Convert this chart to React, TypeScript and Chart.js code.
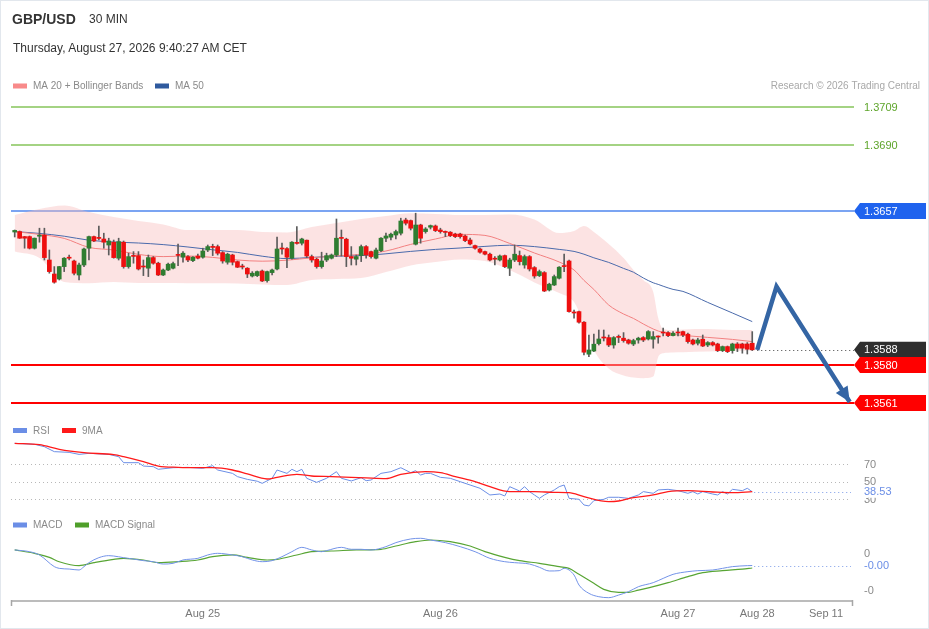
import React, { useEffect, useRef } from "react";
import { Chart, registerables } from "chart.js";

Chart.register(...registerables);

const FONT = '"Liberation Sans", Arial, Helvetica, sans-serif';

// ---------------- candles (GBP/USD 30 min) ----------------
const opens = [
  1.36465,1.36467,1.36442,1.36442,1.36384,1.36444,1.36450,1.36325,1.36255,1.36230,
  1.36292,1.36337,1.36320,1.36250,1.36300,1.36384,1.36442,1.36435,1.36430,1.36400,
  1.36414,1.36334,1.36414,1.36292,1.36345,1.36347,1.36293,1.36284,1.36337,1.36309,
  1.36250,1.36275,1.36284,1.36350,1.36339,1.36342,1.36322,1.36345,1.36339,1.36375,
  1.36390,1.36392,1.36362,1.36314,1.36350,1.36317,1.36293,1.36284,1.36245,1.36247,
  1.36270,1.36222,1.36262,1.36280,1.36383,1.36382,1.36334,1.36409,1.36409,1.36424,
  1.36342,1.36329,1.36292,1.36325,1.36334,1.36350,1.36435,1.36429,1.36342,1.36329,
  1.36347,1.36392,1.36367,1.36334,1.36372,1.36434,1.36439,1.36450,1.36459,1.36525,
  1.36522,1.36404,1.36500,1.36467,1.36489,1.36495,1.36475,1.36465,1.36464,1.36455,
  1.36455,1.36445,1.36425,1.36397,1.36380,1.36367,1.36354,1.36330,1.36325,1.36347,
  1.36284,1.36325,1.36347,1.36300,1.36342,1.36287,1.36247,1.36262,1.36175,1.36200,
  1.36234,1.36297,1.36320,1.36063,1.36067,1.36014,1.35854,1.35870,1.35907,1.35938,
  1.35937,1.35900,1.35940,1.35934,1.35925,1.35905,1.35925,1.35937,1.35930,1.35929,
  1.35943,1.35963,1.35962,1.35947,1.35963,1.35967,1.35954,1.35925,1.35909,1.35929,
  1.35900,1.35912,1.35905,1.35872,1.35892,1.35872,1.35905,1.35905,1.35905,1.35909,
];
const highs = [
  1.36475,1.36470,1.36443,1.36445,1.36435,1.36484,1.36484,1.36375,1.36292,1.36293,
  1.36337,1.36350,1.36325,1.36309,1.36384,1.36445,1.36445,1.36495,1.36459,1.36434,
  1.36425,1.36434,1.36420,1.36359,1.36367,1.36367,1.36325,1.36350,1.36342,1.36314,
  1.36280,1.36309,1.36314,1.36404,1.36367,1.36347,1.36342,1.36354,1.36384,1.36400,
  1.36404,1.36400,1.36367,1.36359,1.36354,1.36320,1.36304,1.36287,1.36267,1.36270,
  1.36275,1.36270,1.36279,1.36439,1.36409,1.36387,1.36417,1.36492,1.36434,1.36425,
  1.36350,1.36334,1.36364,1.36359,1.36355,1.36530,1.36475,1.36434,1.36392,1.36350,
  1.36400,1.36397,1.36370,1.36384,1.36437,1.36459,1.36459,1.36475,1.36534,1.36534,
  1.36525,1.36559,1.36504,1.36487,1.36500,1.36500,1.36484,1.36470,1.36467,1.36459,
  1.36459,1.36450,1.36434,1.36400,1.36384,1.36370,1.36359,1.36342,1.36350,1.36350,
  1.36334,1.36400,1.36370,1.36350,1.36347,1.36292,1.36275,1.36267,1.36209,1.36250,
  1.36292,1.36354,1.36325,1.36075,1.36070,1.36017,1.35950,1.35954,1.35975,1.35975,
  1.35950,1.35942,1.35950,1.35962,1.35929,1.35929,1.35939,1.35942,1.35972,1.35967,
  1.35945,1.35984,1.35967,1.35967,1.35984,1.35970,1.35959,1.35929,1.35934,1.35950,
  1.35917,1.35917,1.35909,1.35895,1.35895,1.35909,1.35912,1.35909,1.35912,1.35967,
];
const lows = [
  1.36440,1.36433,1.36384,1.36380,1.36380,1.36414,1.36325,1.36259,1.36209,1.36225,
  1.36267,1.36325,1.36250,1.36225,1.36292,1.36325,1.36417,1.36425,1.36384,1.36350,
  1.36334,1.36325,1.36284,1.36284,1.36309,1.36275,1.36247,1.36242,1.36304,1.36247,
  1.36247,1.36272,1.36280,1.36297,1.36314,1.36317,1.36317,1.36330,1.36334,1.36367,
  1.36347,1.36350,1.36309,1.36304,1.36300,1.36287,1.36280,1.36237,1.36240,1.36242,
  1.36217,1.36214,1.36250,1.36275,1.36354,1.36287,1.36329,1.36404,1.36400,1.36337,
  1.36314,1.36284,1.36284,1.36317,1.36330,1.36342,1.36345,1.36292,1.36300,1.36300,
  1.36317,1.36334,1.36334,1.36330,1.36367,1.36417,1.36425,1.36430,1.36450,1.36500,
  1.36475,1.36400,1.36409,1.36459,1.36480,1.36467,1.36459,1.36442,1.36442,1.36437,
  1.36434,1.36417,1.36400,1.36379,1.36359,1.36350,1.36320,1.36300,1.36320,1.36287,
  1.36247,1.36317,1.36300,1.36284,1.36270,1.36234,1.36242,1.36167,1.36170,1.36197,
  1.36230,1.36267,1.36064,1.36034,1.36009,1.35850,1.35842,1.35867,1.35900,1.35920,
  1.35892,1.35884,1.35912,1.35914,1.35904,1.35897,1.35909,1.35917,1.35925,1.35884,
  1.35909,1.35945,1.35942,1.35945,1.35945,1.35942,1.35909,1.35900,1.35900,1.35892,
  1.35892,1.35895,1.35867,1.35867,1.35862,1.35859,1.35867,1.35859,1.35855,1.35872,
];
const closes = [
  1.36473,1.36434,1.36434,1.36384,1.36434,1.36446,1.36337,1.36267,1.36214,1.36292,
  1.36334,1.36334,1.36259,1.36300,1.36380,1.36442,1.36420,1.36433,1.36414,1.36420,
  1.36337,1.36417,1.36292,1.36342,1.36343,1.36280,1.36290,1.36337,1.36309,1.36250,
  1.36275,1.36304,1.36307,1.36348,1.36359,1.36325,1.36339,1.36334,1.36370,1.36392,
  1.36388,1.36359,1.36320,1.36354,1.36314,1.36289,1.36290,1.36255,1.36259,1.36267,
  1.36220,1.36267,1.36275,1.36380,1.36380,1.36339,1.36414,1.36408,1.36430,1.36345,
  1.36325,1.36292,1.36320,1.36347,1.36350,1.36434,1.36433,1.36342,1.36334,1.36342,
  1.36392,1.36350,1.36342,1.36375,1.36434,1.36445,1.36454,1.36467,1.36520,1.36509,
  1.36484,1.36500,1.36434,1.36480,1.36497,1.36472,1.36467,1.36463,1.36447,1.36442,
  1.36442,1.36422,1.36405,1.36384,1.36364,1.36354,1.36325,1.36329,1.36345,1.36292,
  1.36325,1.36354,1.36317,1.36342,1.36280,1.36245,1.36267,1.36170,1.36204,1.36242,
  1.36289,1.36292,1.36067,1.36060,1.36014,1.35864,1.35875,1.35904,1.35930,1.35935,
  1.35900,1.35937,1.35938,1.35922,1.35909,1.35922,1.35934,1.35925,1.35967,1.35942,
  1.35940,1.35960,1.35947,1.35959,1.35960,1.35950,1.35917,1.35905,1.35925,1.35895,
  1.35912,1.35900,1.35872,1.35892,1.35867,1.35905,1.35884,1.35884,1.35879,1.35876,
];

// ---------------- moving averages & Bollinger bands (sampled at candle index) ----------------
const bandIdx = [0,5,10,15,20,25,30,35,40,45,50,55,60,65,70,75,80,85,90,95,100,105,110,113,115,117,120,123,125,127,129,130,131,133,135,140,145,149];
const ma20Values = [
  1.36467,1.36453,1.36433,1.36388,1.36375,1.36353,1.36342,1.36345,1.36338,1.36325,
  1.36319,1.36324,1.36336,1.36346,1.36353,1.36370,1.36403,1.36430,1.36453,1.36448,
  1.36408,1.36360,1.36315,1.36275,1.36223,1.36178,1.36100,1.36055,1.36033,1.36005,
  1.35980,1.35970,1.35963,1.35953,1.35948,1.35938,1.35928,1.35917,
];
const ma50Values = [
  1.36467,1.36458,1.36444,1.36424,1.36415,1.36410,1.36402,1.36390,1.36376,1.36363,
  1.36344,1.36332,1.36338,1.36344,1.36347,1.36356,1.36368,1.36378,1.36385,1.36393,
  1.36399,1.36392,1.36378,1.36368,1.36354,1.36336,1.36313,1.36283,1.36264,1.36235,
  1.36211,1.36203,1.36194,1.36178,1.36168,1.36113,1.36060,1.36017,
];
const bbUpper = [
  1.36550,1.36580,1.36598,1.36565,1.36540,1.36520,1.36503,1.36475,1.36475,1.36475,
  1.36465,1.36463,1.36490,1.36510,1.36530,1.36545,1.36559,1.36555,1.36550,1.36550,
  1.36553,1.36528,1.36460,1.36470,1.36495,1.36465,1.36405,1.36335,1.36275,1.36225,
  1.36165,1.36035,1.35980,1.35975,1.35978,1.35980,1.35975,1.35975,
];
const bbLower = [
  1.36367,1.36335,1.36215,1.36209,1.36215,1.36210,1.36210,1.36209,1.36209,1.36208,
  1.36203,1.36200,1.36225,1.36230,1.36235,1.36265,1.36298,1.36315,1.36328,1.36320,
  1.36275,1.36213,1.36160,1.36115,1.36005,1.35875,1.35783,1.35748,1.35738,1.35734,
  1.35742,1.35840,1.35859,1.35863,1.35864,1.35867,1.35870,1.35872,
];

// ---------------- RSI ----------------
const rsiIdx = [0,4,6,8,11,13,15,19,21,22,25,26,28,29,32,35,38,40,41,44,45,47,49,50,52,53,55,56,57,58,59,61,63,65,66,68,70,71,72,74,76,78,80,81,82,83,84,86,88,90,92,94,96,98,99,100,102,103,104,105,106,107,109,110,111,112,114,115,116,117,119,120,122,124,126,127,129,130,132,134,136,137,138,139,141,142,143,144,145,147,148,149];
const rsiValues = [93.4,92.3,89.6,84.0,83.2,80.9,82.1,80.9,78.3,71.5,71.5,67.7,67.0,64.0,65.8,66.2,65.1,68.1,63.2,59.4,55.7,52.6,50.5,48.1,53.8,63.2,59.4,64.0,61.3,64.0,53.8,49.2,53.8,61.3,53.8,50.8,54.5,51.1,51.9,59.4,61.3,65.8,60.2,62.5,57.5,59.4,59.4,54.9,53.8,50.0,46.2,42.5,34.9,36.0,33.8,44.3,39.4,44.3,38.7,34.9,31.1,34.9,40.6,44.3,46.2,31.1,30.0,23.6,22.5,28.5,30.0,32.3,32.3,31.1,34.9,38.7,36.8,40.6,41.3,39.8,36.8,38.7,36.0,38.7,36.0,34.9,38.7,36.0,41.3,39.8,42.5,38.53];
const rsiMaIdx = [0,5,9,14,20,22,26,29,33,38,40,44,47,51,53,57,60,64,68,71,75,78,83,86,89,93,96,100,105,109,112,115,120,122,125,129,132,136,141,145,149];
const rsiMaValues = [93.4,91.9,86.6,82.8,80.6,78.3,72.6,67.7,66.2,65.8,65.8,63.2,58.7,53.0,54.9,58.3,56.4,55.7,54.9,54.2,53.4,58.3,61.3,60.2,55.7,50.0,44.3,38.7,38.7,37.9,37.5,33.0,27.4,28.1,31.9,34.9,38.7,39.8,38.3,37.5,38.7];

// ---------------- MACD ----------------
const macdIdx = [0,3,5,8,9,11,13,14,15,17,19,20,22,23,26,28,30,32,34,37,39,41,44,46,48,50,52,54,56,58,60,62,63,66,68,70,72,75,77,80,82,84,87,90,93,96,99,101,104,106,108,110,111,113,114,116,118,120,122,124,126,129,131,133,136,138,141,143,145,148,149];
const macdValues = [4.5e-5,2.2e-5,-2.2e-5,-17.8e-5,-20.1e-5,-21.0e-5,-22.3e-5,-17.8e-5,-12.5e-5,-5.8e-5,-3.1e-5,-3.6e-5,-5.8e-5,-6.7e-5,-9.8e-5,-11.2e-5,-14.3e-5,-13.4e-5,-8.9e-5,-6.7e-5,-2.2e-5,0,-2.2e-5,-4.5e-5,-8.9e-5,-11.2e-5,-9.8e-5,-4.5e-5,2.2e-5,8.0e-5,4.5e-5,2.2e-5,3.6e-5,8.0e-5,5.4e-5,5.4e-5,4.5e-5,8.9e-5,14.3e-5,19.2e-5,20.1e-5,17.8e-5,14.3e-5,8.9e-5,2.2e-5,-6.7e-5,-11.2e-5,-12.5e-5,-14.3e-5,-18.7e-5,-23.6e-5,-23.2e-5,-20.1e-5,-29.0e-5,-42.4e-5,-53.5e-5,-58.0e-5,-59.3e-5,-55.8e-5,-51.3e-5,-44.6e-5,-39.2e-5,-33.5e-5,-28.1e-5,-24.5e-5,-23.2e-5,-22.3e-5,-20.1e-5,-17.8e-5,-16.5e-5,-16.3e-5];
const signalIdx = [0,4,7,9,13,16,20,22,26,29,33,37,40,44,47,51,53,57,60,64,69,74,77,81,84,88,92,95,99,102,106,110,112,114,117,119,122,124,126,129,132,136,139,143,147,149];
const signalValues = [4.5e-5,0,-5.4e-5,-11.2e-5,-16.5e-5,-12.5e-5,-8.0e-5,-6.7e-5,-8.9e-5,-12.5e-5,-11.2e-5,-8.9e-5,-4.5e-5,-2.2e-5,-5.4e-5,-8.9e-5,-8.0e-5,-2.2e-5,2.2e-5,3.1e-5,4.5e-5,5.4e-5,9.8e-5,15.6e-5,17.8e-5,15.6e-5,9.8e-5,2.2e-5,-5.4e-5,-9.8e-5,-13.4e-5,-17.8e-5,-20.1e-5,-28.1e-5,-40.1e-5,-48.2e-5,-52.2e-5,-52.2e-5,-49.1e-5,-44.6e-5,-39.2e-5,-31.2e-5,-25.9e-5,-23.2e-5,-21.0e-5,-19.6e-5];

// ---------------- levels, projection, ticks ----------------
const resistanceLevels = [1.3709, 1.369];
const pivotLevel = 1.3657;
const supportLevels = [1.358, 1.3561];
const projIdx = [150, 153.9, 168.7];
const projValues = [1.35876, 1.36192, 1.35615];
const rsiLevels = [70, 50, 30];
const macdTicks = [0, -0.0005];
const xTickIdx = [38, 86, 134, 150, 163.9];
const xTickLabels = ["Aug 25", "Aug 26", "Aug 27", "Aug 28", "Sep 11"];

// axis ranges
const X_MIN = -0.7475, X_MAX = 168.95;
const PRICE_MIN = 1.34625, PRICE_MAX = 1.37325;
const RSI_MIN = -84.1, RSI_MAX = 527.8;
const MACD_MIN = -0.000624, MACD_MAX = 0.006595;

// styles
const GREEN = "#2f7d31";
const RED = "#ee0f0f";
const WICK = "#5c5c5c";

const pts = (xs: number[], ys: number[]) => xs.map((x, i) => ({ x, y: ys[i] }));

function tag(ctx: CanvasRenderingContext2D, yc: number, color: string, text: string) {
  const tip = 854, sh = 860, right = 926, h = 8;
  ctx.fillStyle = color;
  ctx.beginPath();
  ctx.moveTo(tip, yc);
  ctx.lineTo(sh, yc - h);
  ctx.lineTo(right, yc - h);
  ctx.lineTo(right, yc + h);
  ctx.lineTo(sh, yc + h);
  ctx.closePath();
  ctx.fill();
  ctx.fillStyle = "#ffffff";
  ctx.font = `11px ${FONT}`;
  ctx.textAlign = "left";
  ctx.textBaseline = "middle";
  ctx.fillText(text, 864, yc + 0.5);
}

function hline(ctx: CanvasRenderingContext2D, y: number, color: string, width: number, dash: number[], x0: number, x1: number, snap = true) {
  ctx.save();
  ctx.strokeStyle = color;
  ctx.lineWidth = width;
  ctx.setLineDash(dash);
  ctx.beginPath();
  const yy = snap ? (width % 2 === 1 ? Math.round(y) + 0.5 : Math.round(y)) : y;
  ctx.moveTo(x0, yy);
  ctx.lineTo(x1, yy);
  ctx.stroke();
  ctx.restore();
}

function legend(ctx: CanvasRenderingContext2D, x: number, y: number, color: string, text: string) {
  ctx.fillStyle = color;
  ctx.fillRect(x, y - 2.5, 14, 5);
  ctx.fillStyle = "#8a8a8a";
  ctx.font = `10px ${FONT}`;
  ctx.textAlign = "left";
  ctx.textBaseline = "middle";
  ctx.fillText(text, x + 20, y + 0.5);
}

const overlayPlugin = {
  id: "overlay",
  beforeDatasetsDraw(chart: any) {
    const { ctx, chartArea: a, scales } = chart;
    const py = scales.y, ry = scales.rsi, my = scales.macd, sx = scales.x;
    resistanceLevels.forEach((v) => hline(ctx, Math.round(py.getPixelForValue(v)), "#86c55a", 1.3, [], a.left, 854, false));
    hline(ctx, Math.round(py.getPixelForValue(pivotLevel)), "#4f86ee", 1.6, [], a.left, 854, false);
    supportLevels.forEach((v) => hline(ctx, py.getPixelForValue(v), "#ff0000", 2, [], a.left, 854));
    const last = closes.length - 1;
    hline(ctx, py.getPixelForValue(closes[last]), "#444444", 1, [1, 3], sx.getPixelForValue(last) + 5, 854);
    rsiLevels.forEach((v) => hline(ctx, ry.getPixelForValue(v), "#b8b8b8", 1, [1, 3], a.left, a.right));
    const rl = rsiValues.length - 1;
    hline(ctx, ry.getPixelForValue(rsiValues[rl]), "#7b9be8", 1, [1, 3], sx.getPixelForValue(rsiIdx[rl]) + 2, a.right);
    const ml = macdValues.length - 1;
    hline(ctx, my.getPixelForValue(macdValues[ml]), "#7b9be8", 1, [1, 3], sx.getPixelForValue(macdIdx[ml]) + 2, a.right);
  },
  afterDraw(chart: any) {
    const { ctx, chartArea: a, scales } = chart;
    const py = scales.y, ry = scales.rsi, my = scales.macd, sx = scales.x;
    ctx.save();

    // price level labels
    ctx.font = `11px ${FONT}`;
    ctx.textAlign = "left";
    ctx.textBaseline = "middle";
    resistanceLevels.forEach((v) => {
      ctx.fillStyle = "#5ea52b";
      ctx.fillText(v.toFixed(4), 864, py.getPixelForValue(v) + 0.5);
    });
    tag(ctx, py.getPixelForValue(pivotLevel), "#1f63ee", pivotLevel.toFixed(4));
    const last = closes.length - 1;
    tag(ctx, py.getPixelForValue(closes[last]), "#2e2e2e", closes[last].toFixed(4));
    supportLevels.forEach((v) => tag(ctx, py.getPixelForValue(v), "#ff0000", v.toFixed(4)));

    // RSI labels
    ctx.font = `11px ${FONT}`;
    ctx.textAlign = "left";
    ctx.textBaseline = "middle";
    ctx.fillStyle = "#8a8a8a";
    rsiLevels.forEach((v) => ctx.fillText(String(v), 864, ry.getPixelForValue(v) + 0.5));
    const rl = rsiValues.length - 1;
    const ryv = ry.getPixelForValue(rsiValues[rl]);
    ctx.fillStyle = "#ffffff";
    ctx.fillRect(856, ryv - 6, 40, 12);
    ctx.fillStyle = "#6b8ee6";
    ctx.fillText(rsiValues[rl].toFixed(2), 864, ryv + 0.5);

    // MACD labels
    ctx.fillStyle = "#8a8a8a";
    macdTicks.forEach((v) => ctx.fillText(v.toFixed(0), 864, my.getPixelForValue(v) + 0.5));
    const ml = macdValues.length - 1;
    ctx.fillStyle = "#6b8ee6";
    ctx.fillText(macdValues[ml].toFixed(2), 864, my.getPixelForValue(macdValues[ml]) + 0.5);

    // legends
    legend(ctx, 13, 86, "#f88a8a", "MA 20 + Bollinger Bands");
    legend(ctx, 155, 86, "#2f5a9e", "MA 50");
    legend(ctx, 13, 430.5, "#6b8ee6", "RSI");
    legend(ctx, 62, 430.5, "#ff1a1a", "9MA");
    legend(ctx, 13, 525, "#6b8ee6", "MACD");
    legend(ctx, 75, 525, "#4f9f2a", "MACD Signal");
    ctx.font = `10px ${FONT}`;
    ctx.fillStyle = "#a8a8a8";
    ctx.textAlign = "right";
    ctx.fillText("Research \u00a9 2026 Trading Central", 920, 86.5);

    // x axis
    ctx.strokeStyle = "#a6a6a6";
    ctx.lineWidth = 1.5;
    ctx.beginPath();
    ctx.moveTo(a.left, 601);
    ctx.lineTo(853, 601);
    ctx.moveTo(a.left + 0.5, 600);
    ctx.lineTo(a.left + 0.5, 606);
    ctx.moveTo(852.5, 600);
    ctx.lineTo(852.5, 606);
    ctx.stroke();
    ctx.fillStyle = "#777777";
    ctx.font = `11px ${FONT}`;
    ctx.textAlign = "center";
    ctx.textBaseline = "middle";
    xTickIdx.forEach((v, i) => ctx.fillText(xTickLabels[i], sx.getPixelForValue(v), 613.5));

    // arrow head of projection
    const n = projIdx.length;
    const x1 = sx.getPixelForValue(projIdx[n - 2]), y1 = py.getPixelForValue(projValues[n - 2]);
    const x2 = sx.getPixelForValue(projIdx[n - 1]), y2 = py.getPixelForValue(projValues[n - 1]);
    const ang = Math.atan2(y2 - y1, x2 - x1);
    const L = 15, W = 7;
    const bx = x2 - L * Math.cos(ang), by = y2 - L * Math.sin(ang);
    ctx.fillStyle = "#3465a4";
    ctx.beginPath();
    ctx.moveTo(x2, y2);
    ctx.lineTo(bx - W * Math.sin(ang), by + W * Math.cos(ang));
    ctx.lineTo(bx + W * Math.sin(ang), by - W * Math.cos(ang));
    ctx.closePath();
    ctx.fill();

    // frame
    ctx.strokeStyle = "#e2e7ed";
    ctx.lineWidth = 1;
    ctx.strokeRect(0.5, 0.5, 928, 628);
    ctx.restore();
  },
};

export default function App() {
  const canvasRef = useRef<HTMLCanvasElement>(null);

  useEffect(() => {
    const canvas = canvasRef.current;
    if (!canvas) return;
    const idx = closes.map((_, i) => i);
    const bodyColors = idx.map((i) => (closes[i] >= opens[i] ? GREEN : RED));
    const lineBase = { type: "line" as const, pointRadius: 0, fill: false, xAxisID: "x" };
    const chart = new Chart(canvas, {
      type: "line",
      data: {
        datasets: [
          {
            ...lineBase,
            data: pts(projIdx, projValues),
            yAxisID: "y",
            borderColor: "#3465a4",
            borderWidth: 4.5,
            borderJoinStyle: "miter",
            tension: 0,
            clip: false,
            order: 0,
          },
          {
            type: "bar",
            data: idx.map((i) => ({ x: i, y: [opens[i], closes[i]] })),
            xAxisID: "x",
            yAxisID: "y",
            backgroundColor: bodyColors,
            barThickness: 4,
            minBarLength: 1,
            grouped: false,
            borderWidth: 0,
            order: 1,
          } as any,
          {
            type: "bar",
            data: idx.map((i) => ({ x: i, y: [lows[i], highs[i]] })),
            xAxisID: "x",
            yAxisID: "y",
            backgroundColor: WICK,
            barThickness: 1,
            grouped: false,
            borderWidth: 0,
            order: 2,
          } as any,
          {
            ...lineBase,
            data: pts(bandIdx, ma20Values),
            yAxisID: "y",
            borderColor: "#f28080",
            borderWidth: 1,
            cubicInterpolationMode: "monotone",
            order: 3,
          },
          {
            ...lineBase,
            data: pts(bandIdx, ma50Values),
            yAxisID: "y",
            borderColor: "#4a6aab",
            borderWidth: 1,
            cubicInterpolationMode: "monotone",
            order: 4,
          },
          {
            ...lineBase,
            data: pts(bandIdx, bbUpper),
            yAxisID: "y",
            borderColor: "rgba(0,0,0,0)",
            borderWidth: 0,
            backgroundColor: "rgba(248,188,188,0.42)",
            fill: "+1",
            cubicInterpolationMode: "monotone",
            order: 5,
          },
          {
            ...lineBase,
            data: pts(bandIdx, bbLower),
            yAxisID: "y",
            borderColor: "rgba(0,0,0,0)",
            borderWidth: 0,
            cubicInterpolationMode: "monotone",
            order: 6,
          },
          {
            ...lineBase,
            data: pts(rsiIdx, rsiValues),
            yAxisID: "rsi",
            borderColor: "#6b8ee6",
            borderWidth: 1,
            tension: 0,
            order: 8,
          },
          {
            ...lineBase,
            data: pts(rsiMaIdx, rsiMaValues),
            yAxisID: "rsi",
            borderColor: "#ff1a1a",
            borderWidth: 1.3,
            cubicInterpolationMode: "monotone",
            order: 7,
          },
          {
            ...lineBase,
            data: pts(macdIdx, macdValues),
            yAxisID: "macd",
            borderColor: "#7393e8",
            borderWidth: 1,
            cubicInterpolationMode: "monotone",
            order: 9,
          },
          {
            ...lineBase,
            data: pts(signalIdx, signalValues),
            yAxisID: "macd",
            borderColor: "#58a534",
            borderWidth: 1.2,
            cubicInterpolationMode: "monotone",
            order: 10,
          },
        ] as any,
      },
      options: {
        responsive: false,
        animation: false,
        events: [],
        layout: { padding: { left: 11, right: 78, top: 60, bottom: 29 } },
        plugins: { legend: { display: false }, tooltip: { enabled: false } },
        scales: {
          x: { type: "linear", min: X_MIN, max: X_MAX, display: false, offset: false },
          y: { type: "linear", min: PRICE_MIN, max: PRICE_MAX, display: false },
          rsi: { type: "linear", position: "right", min: RSI_MIN, max: RSI_MAX, display: false },
          macd: { type: "linear", position: "right", min: MACD_MIN, max: MACD_MAX, display: false },
        },
      } as any,
      plugins: [overlayPlugin],
    });
    return () => chart.destroy();
  }, []);

  return (
    <div
      style={{
        position: "absolute",
        left: 0,
        top: 0,
        width: 929,
        height: 629,
        background: "#ffffff",
        overflow: "hidden",
        fontFamily: FONT,
      }}
    >
      <canvas
        ref={canvasRef}
        width={929}
        height={629}
        style={{ position: "absolute", left: 0, top: 0, width: 929, height: 629 }}
      />
      <div style={{ position: "absolute", left: 12, top: 10.5, fontSize: 14, fontWeight: "bold", lineHeight: "16px", color: "#333", whiteSpace: "nowrap" }}>
        GBP/USD
      </div>
      <div style={{ position: "absolute", left: 89, top: 11.5, fontSize: 12, lineHeight: "14px", color: "#333", whiteSpace: "nowrap" }}>
        30 MIN
      </div>
      <div style={{ position: "absolute", left: 13, top: 40.5, fontSize: 12, lineHeight: "14px", color: "#333", whiteSpace: "nowrap" }}>
        Thursday, August 27, 2026 9:40:27 AM CET
      </div>
    </div>
  );
}
